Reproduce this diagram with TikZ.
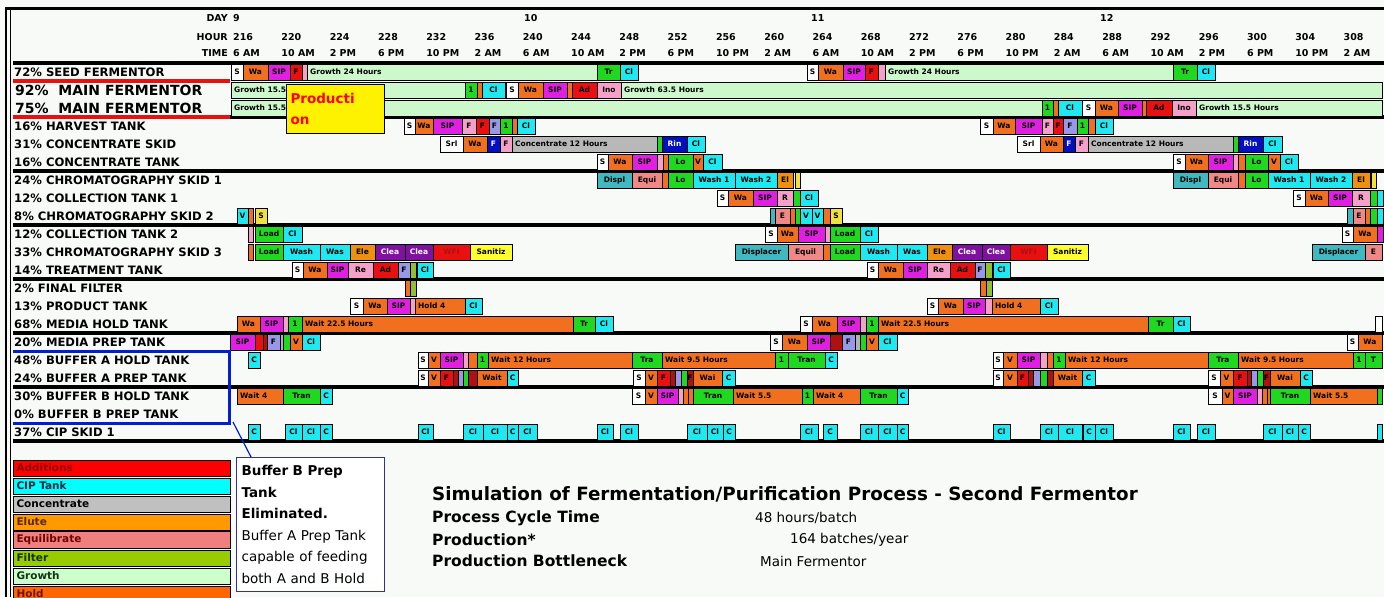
\documentclass[tikz,border=0pt]{standalone}
\usepackage{fontspec}
\setmainfont{DejaVu Sans}
\usetikzlibrary{positioning}

\definecolor{bgc}{RGB}{248,250,248}
\definecolor{washc}{RGB}{240,112,32}
\definecolor{sipc}{RGB}{224,32,224}
\definecolor{addc}{RGB}{232,16,16}
\definecolor{pinkc}{RGB}{244,160,200}
\definecolor{growc}{RGB}{204,248,204}
\definecolor{tranc}{RGB}{32,216,32}
\definecolor{cipc}{RGB}{32,232,240}
\definecolor{lavc}{RGB}{152,152,232}
\definecolor{fbluec}{RGB}{0,16,192}
\definecolor{concc}{RGB}{184,184,184}
\definecolor{dispc}{RGB}{64,184,192}
\definecolor{equic}{RGB}{240,136,136}
\definecolor{elutec}{RGB}{240,144,16}
\definecolor{yelc}{RGB}{240,224,64}
\definecolor{purc}{RGB}{128,16,160}
\definecolor{sanc}{RGB}{255,255,48}
\definecolor{dredc}{RGB}{176,16,16}
\definecolor{filc}{RGB}{144,192,48}
\definecolor{notec}{RGB}{48,48,168}
\definecolor{bluec}{RGB}{0,32,208}

\tikzset{
  bar/.style={draw=black, line width=0.9pt},
  lbl/.style={fill=none, draw=none, inner sep=0pt, font=\fontsize{7.5}{8}\selectfont\bfseries},
  wh/.style={fill=white}, wa/.style={fill=washc}, sip/.style={fill=sipc},
  ad/.style={fill=addc}, pk/.style={fill=pinkc}, gro/.style={fill=growc},
  tr/.style={fill=tranc}, cl/.style={fill=cipc}, lav/.style={fill=lavc},
  fb/.style={fill=fbluec, text=white}, conc/.style={fill=concc},
  dsp/.style={fill=dispc}, eq/.style={fill=equic}, el/.style={fill=elutec},
  yel/.style={fill=yelc}, pur/.style={fill=purc, text=white},
  wfi/.style={fill=addc, text=dredc}, san/.style={fill=sanc},
  dr/.style={fill=dredc}, fil/.style={fill=filc}, gry/.style={fill=gray!60},
  hdr/.style={inner sep=0pt, font=\fontsize{9.5}{11}\selectfont\bfseries},
  rowlbl/.style={inner sep=0pt, anchor=west, font=\fontsize{11.6}{13}\selectfont\bfseries},
  mainlbl/.style={inner sep=0pt, anchor=west, font=\fontsize{14}{16}\selectfont\bfseries},
  leg/.style={draw=black, line width=1pt, anchor=west, minimum height=16pt, text width=211pt,
    inner sep=3pt, align=left, font=\fontsize{10.5}{12}\selectfont\bfseries},
  stat/.style={inner sep=0pt, anchor=west, font=\fontsize{15.5}{17}\selectfont\bfseries},
  val/.style={inner sep=0pt, anchor=west, font=\fontsize{13.5}{16}\selectfont},
}

\newcounter{tk}
\newcommand\task[5]{%
  \pgfmathsetmacro\ry{54+18*#1}%
  \draw[bar,#4] (#2,\ry-8) rectangle (#3,\ry+8);
  \stepcounter{tk}%
  \node[#4,lbl] (tk\arabic{tk}) at ({(#2+#3)/2},\ry) {#5};}
\newcommand\taskl[5]{%
  \pgfmathsetmacro\ry{54+18*#1}%
  \draw[bar,#4] (#2,\ry-8) rectangle (#3,\ry+8);
  \stepcounter{tk}%
  \node[#4,lbl,anchor=west] (tk\arabic{tk}) at (#2+3,\ry) {#5};}

\begin{document}
\begin{tikzpicture}[x=1pt, y=-1pt]
\useasboundingbox (0,0) rectangle (1384,597);
\fill[bgc] (0,0) rectangle (1384,597);

% frame
\draw[line width=3pt] (5,8.5) -- (1384,8.5);
\draw[line width=1.5pt] (6,8) -- (6,597);
\draw[line width=1pt] (10,8) -- (10,597);

% header
\node[hdr, anchor=east] (day) at (228,18) {DAY};
\node[hdr, anchor=east] (hour) at (228,37) {HOUR};
\node[hdr, anchor=east] (time) at (228,53) {TIME};
\foreach \d/\x [count=\i] in {9/233,10/524,11/811,12/1100}
  \node[hdr, anchor=west] (d\i) at (\x,18) {\d};
\foreach \h/\tm [count=\i] in {216/6 AM,220/10 AM,224/2 PM,228/6 PM,232/10 PM,236/2 AM,
  240/6 AM,244/10 AM,248/2 PM,252/6 PM,256/10 PM,260/2 AM,264/6 AM,268/10 AM,272/2 PM,
  276/6 PM,280/10 PM,284/2 AM,288/6 AM,292/10 AM,296/2 PM,300/6 PM,304/10 PM,308/2 AM}{
  \node[hdr, anchor=west] (h\i) at ({233+(\h-216)*12.07},37) {\h};
  \node[hdr, anchor=west] (t\i) at ({233+(\h-216)*12.07},53) {\tm};
}

% group lines
\foreach \g in {0,2,3,4,5,6,7}
  \fill (13,{61+54*\g}) rectangle (1384,{65+54*\g});
\fill (230,115) rectangle (1384,119);

% seed fermentor
\task{1}{231}{243}{wh}{S}
\task{1}{243}{268}{wa}{Wa}
\task{1}{268}{290}{sip}{SIP}
\task{1}{290}{302}{ad}{F}
\task{1}{302}{307}{pk}{}
\taskl{1}{307}{597}{gro}{Growth 24 Hours}
\task{1}{597}{620}{tr}{Tr}
\task{1}{620}{638}{cl}{Cl}
\task{1}{807}{818}{wh}{S}
\task{1}{818}{843}{wa}{Wa}
\task{1}{843}{865}{sip}{SIP}
\task{1}{865}{878}{ad}{F}
\task{1}{878}{885}{pk}{}
\taskl{1}{885}{1173}{gro}{Growth 24 Hours}
\task{1}{1173}{1197}{tr}{Tr}
\task{1}{1197}{1215}{cl}{Cl}

% main fermentors
\taskl{2}{231}{465}{gro}{Growth 15.5 Hours}
\task{2}{465}{477}{tr}{1}
\task{2}{477}{482}{wa}{}
\task{2}{482}{505}{cl}{Cl}
\task{2}{506}{518}{wh}{S}
\task{2}{518}{543}{wa}{Wa}
\task{2}{543}{567}{sip}{SIP}
\task{2}{567}{572}{wa}{}
\task{2}{572}{597}{ad}{Ad}
\task{2}{597}{621}{pk}{Ino}
\taskl{2}{621}{1382}{gro}{Growth 63.5 Hours}
\taskl{3}{231}{1042}{gro}{Growth 15.5 Hours}
\task{3}{1042}{1053}{tr}{1}
\task{3}{1053}{1058}{wa}{}
\task{3}{1058}{1082}{cl}{Cl}
\task{3}{1082}{1095}{wh}{S}
\task{3}{1095}{1118}{wa}{Wa}
\task{3}{1118}{1142}{sip}{SIP}
\task{3}{1142}{1146}{wa}{}
\task{3}{1146}{1172}{ad}{Ad}
\task{3}{1172}{1196}{pk}{Ino}
\taskl{3}{1196}{1382}{gro}{Growth 15.5 Hours}

% harvest tank
\task{4}{404}{415}{wh}{S}
\task{4}{415}{433}{wa}{Wa}
\task{4}{433}{462}{sip}{SIP}
\task{4}{462}{476}{pk}{F}
\task{4}{476}{489}{ad}{F}
\task{4}{489}{500}{lav}{F}
\task{4}{500}{512}{tr}{1}
\task{4}{512}{517}{wa}{}
\task{4}{517}{535}{cl}{Cl}
\task{4}{980}{993}{wh}{S}
\task{4}{993}{1015}{wa}{Wa}
\task{4}{1015}{1042}{sip}{SIP}
\task{4}{1042}{1053}{pk}{F}
\task{4}{1053}{1063}{ad}{F}
\task{4}{1063}{1077}{lav}{F}
\task{4}{1077}{1088}{tr}{1}
\task{4}{1088}{1095}{wa}{}
\task{4}{1095}{1113}{cl}{Cl}

% concentrate skid and tank
\task{5}{440}{463}{wh}{Srl}
\task{5}{463}{487}{wa}{Wa}
\task{5}{487}{500}{fb}{F}
\task{5}{500}{512}{pk}{F}
\taskl{5}{512}{657}{conc}{Concentrate 12 Hours}
\task{5}{657}{662}{tr}{}
\task{5}{662}{687}{fb}{Rin}
\task{5}{687}{705}{cl}{Cl}
\task{5}{1017}{1040}{wh}{Srl}
\task{5}{1040}{1063}{wa}{Wa}
\task{5}{1063}{1075}{fb}{F}
\task{5}{1075}{1088}{pk}{F}
\taskl{5}{1088}{1233}{conc}{Concentrate 12 Hours}
\task{5}{1233}{1238}{tr}{}
\task{5}{1238}{1263}{fb}{Rin}
\task{5}{1263}{1282}{cl}{Cl}
\task{6}{597}{608}{wh}{S}
\task{6}{608}{632}{wa}{Wa}
\task{6}{632}{657}{sip}{SIP}
\task{6}{657}{663}{pk}{}
\task{6}{663}{668}{wa}{}
\task{6}{668}{693}{tr}{Lo}
\task{6}{693}{703}{wa}{V}
\task{6}{703}{722}{cl}{Cl}
\task{6}{1173}{1185}{wh}{S}
\task{6}{1185}{1208}{wa}{Wa}
\task{6}{1208}{1233}{sip}{SIP}
\task{6}{1233}{1238}{pk}{}
\task{6}{1238}{1245}{wa}{}
\task{6}{1245}{1268}{tr}{Lo}
\task{6}{1268}{1280}{wa}{V}
\task{6}{1280}{1298}{cl}{Cl}

% chromatography 1, collection 1, chromatography 2
\task{7}{597}{632}{dsp}{Displ}
\task{7}{632}{662}{eq}{Equi}
\task{7}{662}{668}{wa}{}
\task{7}{668}{693}{tr}{Lo}
\task{7}{693}{735}{cl}{Wash 1}
\task{7}{735}{777}{cl}{Wash 2}
\task{7}{777}{793}{el}{El}
\task{7}{795}{800}{yel}{}
\task{7}{1173}{1208}{dsp}{Displ}
\task{7}{1208}{1238}{eq}{Equi}
\task{7}{1238}{1245}{wa}{}
\task{7}{1245}{1268}{tr}{Lo}
\task{7}{1268}{1310}{cl}{Wash 1}
\task{7}{1310}{1352}{cl}{Wash 2}
\task{7}{1352}{1370}{el}{El}
\task{7}{1371}{1376}{yel}{}
\task{8}{717}{728}{wh}{S}
\task{8}{728}{753}{wa}{Wa}
\task{8}{753}{777}{sip}{SIP}
\task{8}{777}{793}{pk}{R}
\task{8}{793}{800}{tr}{}
\task{8}{800}{818}{cl}{Cl}
\task{8}{1293}{1305}{wh}{S}
\task{8}{1305}{1328}{wa}{Wa}
\task{8}{1328}{1352}{sip}{SIP}
\task{8}{1352}{1370}{pk}{R}
\task{8}{1370}{1377}{tr}{}
\task{8}{1377}{1383}{cl}{}
\task{9}{237}{248}{cl}{V}
\task{9}{248}{253}{wa}{}
\task{9}{255}{267}{yel}{S}
\task{9}{770}{775}{dsp}{}
\task{9}{775}{790}{eq}{E}
\task{9}{790}{795}{wa}{}
\task{9}{795}{800}{tr}{}
\task{9}{800}{812}{cl}{V}
\task{9}{812}{823}{cl}{V}
\task{9}{823}{830}{wa}{}
\task{9}{830}{842}{yel}{S}
\task{9}{1347}{1353}{dsp}{}
\task{9}{1353}{1365}{eq}{E}
\task{9}{1365}{1370}{wa}{}
\task{9}{1370}{1377}{tr}{}
\task{9}{1377}{1383}{cl}{}

% collection 2, chromatography 3, treatment
\task{10}{248}{253}{pk}{}
\task{10}{255}{283}{tr}{Load}
\task{10}{283}{302}{cl}{Cl}
\task{10}{765}{777}{wh}{S}
\task{10}{777}{798}{wa}{Wa}
\task{10}{798}{825}{sip}{SIP}
\task{10}{825}{830}{pk}{}
\task{10}{830}{860}{tr}{Load}
\task{10}{860}{878}{cl}{Cl}
\task{10}{1342}{1353}{wh}{S}
\task{10}{1353}{1377}{wa}{Wa}
\task{10}{1377}{1383}{sip}{}
\task{11}{248}{253}{wa}{}
\task{11}{255}{283}{tr}{Load}
\task{11}{283}{320}{cl}{Wash}
\task{11}{320}{350}{cl}{Was}
\task{11}{350}{375}{el}{Ele}
\task{11}{375}{405}{pur}{Clea}
\task{11}{405}{433}{pur}{Clea}
\task{11}{433}{470}{wfi}{WFI}
\task{11}{470}{512}{san}{Sanitiz}
\task{11}{735}{788}{dsp}{Displacer}
\task{11}{788}{823}{eq}{Equil}
\task{11}{823}{830}{wa}{}
\task{11}{830}{860}{tr}{Load}
\task{11}{860}{897}{cl}{Wash}
\task{11}{897}{927}{cl}{Was}
\task{11}{927}{952}{el}{Ele}
\task{11}{952}{982}{pur}{Clea}
\task{11}{982}{1010}{pur}{Clea}
\task{11}{1010}{1047}{wfi}{WFI}
\task{11}{1047}{1088}{san}{Sanitiz}
\task{11}{1312}{1365}{dsp}{Displacer}
\task{11}{1365}{1382}{eq}{E}
\task{12}{292}{303}{wh}{S}
\task{12}{303}{327}{wa}{Wa}
\task{12}{327}{348}{sip}{SIP}
\task{12}{348}{373}{pk}{Re}
\task{12}{373}{398}{ad}{Ad}
\task{12}{398}{410}{lav}{F}
\task{12}{410}{416}{fil}{}
\task{12}{417}{433}{cl}{Cl}
\task{12}{867}{878}{wh}{S}
\task{12}{878}{903}{wa}{Wa}
\task{12}{903}{927}{sip}{SIP}
\task{12}{927}{950}{pk}{Re}
\task{12}{950}{975}{ad}{Ad}
\task{12}{975}{985}{lav}{F}
\task{12}{985}{992}{fil}{}
\task{12}{993}{1010}{cl}{Cl}

% final filter, product tank, media hold
\task{13}{405}{410}{wa}{}
\task{13}{410}{416}{fil}{}
\task{13}{980}{986}{wa}{}
\task{13}{986}{992}{fil}{}
\task{14}{350}{363}{wh}{S}
\task{14}{363}{387}{wa}{Wa}
\task{14}{387}{410}{sip}{SIP}
\task{14}{410}{415}{pk}{}
\taskl{14}{415}{465}{wa}{Hold 4}
\task{14}{465}{482}{cl}{Cl}
\task{14}{927}{938}{wh}{S}
\task{14}{938}{963}{wa}{Wa}
\task{14}{963}{985}{sip}{SIP}
\task{14}{985}{992}{pk}{}
\taskl{14}{992}{1040}{wa}{Hold 4}
\task{14}{1040}{1058}{cl}{Cl}
\task{15}{237}{260}{wa}{Wa}
\task{15}{260}{283}{sip}{SIP}
\task{15}{283}{288}{pk}{}
\task{15}{288}{302}{tr}{1}
\taskl{15}{302}{573}{wa}{Wait 22.5 Hours}
\task{15}{573}{595}{tr}{Tr}
\task{15}{595}{613}{cl}{Cl}
\task{15}{800}{812}{wh}{S}
\task{15}{812}{837}{wa}{Wa}
\task{15}{837}{860}{sip}{SIP}
\task{15}{860}{866}{pk}{}
\task{15}{866}{878}{tr}{1}
\taskl{15}{878}{1148}{wa}{Wait 22.5 Hours}
\task{15}{1148}{1173}{tr}{Tr}
\task{15}{1173}{1190}{cl}{Cl}
\task{15}{1375}{1382}{wh}{}

% media prep, buffer A hold and prep
\task{16}{230}{255}{sip}{SIP}
\task{16}{255}{263}{ad}{}
\task{16}{263}{267}{dr}{}
\task{16}{267}{280}{lav}{F}
\task{16}{280}{283}{gry}{}
\task{16}{283}{290}{tr}{}
\task{16}{290}{302}{wa}{V}
\task{16}{302}{320}{cl}{Cl}
\task{16}{770}{782}{wh}{S}
\task{16}{782}{807}{wa}{Wa}
\task{16}{807}{830}{sip}{SIP}
\task{16}{830}{842}{dr}{}
\task{16}{842}{855}{lav}{F}
\task{16}{855}{860}{gry}{}
\task{16}{860}{866}{tr}{}
\task{16}{866}{878}{wa}{V}
\task{16}{878}{897}{cl}{Cl}
\task{16}{1347}{1358}{wh}{S}
\task{16}{1358}{1382}{wa}{Wa}
\task{17}{248}{260}{cl}{C}
\task{17}{418}{428}{wh}{S}
\task{17}{428}{440}{wa}{V}
\task{17}{440}{463}{sip}{SIP}
\task{17}{463}{468}{pk}{}
\task{17}{468}{477}{wa}{}
\task{17}{477}{488}{tr}{1}
\taskl{17}{488}{632}{wa}{Wait 12 Hours}
\task{17}{632}{662}{tr}{Tra}
\taskl{17}{662}{775}{wa}{Wait 9.5 Hours}
\task{17}{775}{788}{tr}{1}
\task{17}{788}{825}{tr}{Tran}
\task{17}{825}{837}{cl}{C}
\task{17}{993}{1003}{wh}{S}
\task{17}{1003}{1017}{wa}{V}
\task{17}{1017}{1040}{sip}{SIP}
\task{17}{1040}{1047}{pk}{}
\task{17}{1047}{1053}{wa}{}
\task{17}{1053}{1065}{tr}{1}
\taskl{17}{1065}{1208}{wa}{Wait 12 Hours}
\task{17}{1208}{1238}{tr}{Tra}
\taskl{17}{1238}{1353}{wa}{Wait 9.5 Hours}
\task{17}{1353}{1365}{tr}{1}
\task{17}{1365}{1382}{tr}{T}
\task{18}{418}{428}{wh}{S}
\task{18}{428}{440}{wa}{V}
\task{18}{440}{453}{ad}{F}
\task{18}{453}{458}{dr}{}
\task{18}{458}{463}{lav}{}
\task{18}{463}{468}{tr}{}
\task{18}{468}{477}{dr}{}
\task{18}{477}{507}{wa}{Wait}
\task{18}{507}{518}{cl}{C}
\task{18}{633}{645}{wh}{S}
\task{18}{645}{657}{wa}{V}
\task{18}{657}{670}{ad}{F}
\task{18}{670}{675}{dr}{}
\task{18}{675}{681}{lav}{}
\task{18}{681}{687}{tr}{}
\task{18}{687}{693}{dr}{F}
\task{18}{693}{722}{wa}{Wai}
\task{18}{722}{735}{cl}{C}
\task{18}{993}{1003}{wh}{S}
\task{18}{1003}{1017}{wa}{V}
\task{18}{1017}{1028}{ad}{F}
\task{18}{1028}{1033}{dr}{}
\task{18}{1033}{1040}{lav}{}
\task{18}{1040}{1047}{tr}{}
\task{18}{1047}{1053}{dr}{}
\task{18}{1053}{1082}{wa}{Wait}
\task{18}{1082}{1095}{cl}{C}
\task{18}{1208}{1220}{wh}{S}
\task{18}{1220}{1233}{wa}{V}
\task{18}{1233}{1247}{ad}{F}
\task{18}{1247}{1251}{dr}{}
\task{18}{1251}{1257}{lav}{}
\task{18}{1257}{1263}{tr}{}
\task{18}{1263}{1270}{dr}{F}
\task{18}{1270}{1300}{wa}{Wai}
\task{18}{1300}{1312}{cl}{C}

% buffer B hold
\taskl{19}{237}{283}{wa}{Wait 4}
\task{19}{283}{320}{tr}{Tran}
\task{19}{320}{332}{cl}{C}
\task{19}{632}{645}{wh}{S}
\task{19}{645}{657}{wa}{V}
\task{19}{657}{678}{sip}{SIP}
\task{19}{678}{683}{pk}{}
\task{19}{683}{688}{wa}{}
\task{19}{688}{693}{wa}{}
\task{19}{693}{733}{tr}{Tran}
\taskl{19}{733}{802}{wa}{Wait 5.5}
\task{19}{802}{813}{tr}{1}
\taskl{19}{813}{860}{wa}{Wait 4}
\task{19}{860}{897}{tr}{Tran}
\task{19}{897}{908}{cl}{C}
\task{19}{1208}{1222}{wh}{S}
\task{19}{1222}{1233}{wa}{V}
\task{19}{1233}{1257}{sip}{SIP}
\task{19}{1257}{1262}{pk}{}
\task{19}{1262}{1267}{wa}{}
\task{19}{1267}{1270}{wa}{}
\task{19}{1270}{1310}{tr}{Tran}
\taskl{19}{1310}{1377}{wa}{Wait 5.5}
\task{19}{1377}{1382}{tr}{}

% CIP skid
\foreach \a/\b/\c in {248/260/C,285/302/Cl,302/320/Cl,320/332/C,418/433/Cl,463/483/Cl,
  483/507/Cl,507/518/C,518/537/Cl,597/613/Cl,620/638/Cl,687/707/Cl,707/723/Cl,723/735/C,
  800/818/Cl,823/837/C,860/878/Cl,878/897/Cl,897/908/C,993/1010/Cl,1040/1058/Cl,
  1058/1082/Cl,1083/1095/C,1095/1113/Cl,1173/1190/Cl,1197/1215/Cl,1263/1282/Cl,
  1282/1298/Cl,1298/1310/C,1377/1382/}
  \task{21}{\a}{\b}{cl}{\c};

% row labels
\foreach \k/\lab in {1/72\% SEED FERMENTOR,4/16\% HARVEST TANK,5/31\% CONCENTRATE SKID,
  6/16\% CONCENTRATE TANK,7/24\% CHROMATOGRAPHY SKID 1,8/12\% COLLECTION TANK 1,
  9/8\% CHROMATOGRAPHY SKID 2,10/12\% COLLECTION TANK 2,11/33\% CHROMATOGRAPHY SKID 3,
  12/14\% TREATMENT TANK,13/2\% FINAL FILTER,14/13\% PRODUCT TANK,15/68\% MEDIA HOLD TANK,
  16/20\% MEDIA PREP TANK,17/48\% BUFFER A HOLD TANK,18/24\% BUFFER A PREP TANK,
  19/30\% BUFFER B HOLD TANK,20/0\% BUFFER B PREP TANK,21/37\% CIP SKID 1}
  \node[rowlbl] (row\k) at (14,{54+18*\k}) {\lab};
\node[mainlbl] (row2) at (15,90) {92\%\ \ MAIN FERMENTOR};
\node[mainlbl] (row3) at (15,108) {75\%\ \ MAIN FERMENTOR};

% red and blue outlines
\fill[addc] (13,79) rectangle (230,83);
\fill[addc] (13,115) rectangle (230,119);
\draw[bluec, line width=3.5pt] (13,351.5) -- (229.5,351.5) -- (229.5,423.5) -- (13,423.5);

\node[draw=black, line width=1pt, fill=yellow, anchor=north west, text width=90pt,
  align=left, inner sep=4pt, minimum height=49pt, text=red,
  font=\fontsize{13.5}{21}\selectfont\bfseries] (prod) at (286,84) {Producti\\on};

% legend
\foreach \c/\tc/\lab [count=\i] in {{rgb,255:red,255;green,0;blue,0}/{rgb,255:red,140;green,0;blue,0}/Additions,
  {rgb,255:red,0;green,255;blue,255}/{rgb,255:red,0;green,40;blue,60}/CIP Tank,
  {rgb,255:red,192;green,192;blue,192}/black/Concentrate,
  {rgb,255:red,255;green,153;blue,0}/{rgb,255:red,90;green,40;blue,0}/Elute,
  {rgb,255:red,240;green,128;blue,128}/{rgb,255:red,110;green,0;blue,0}/Equilibrate,
  {rgb,255:red,153;green,204;blue,0}/{rgb,255:red,20;green,50;blue,0}/Filter,
  {rgb,255:red,204;green,255;blue,204}/{rgb,255:red,20;green,50;blue,20}/Growth,
  {rgb,255:red,255;green,102;blue,0}/{rgb,255:red,110;green,20;blue,0}/Hold}
  \node[leg, fill=\c, text=\tc] (leg\i) at (13,{468+18*(\i-1)}) {\lab};

% note
\node[draw=notec, line width=1.2pt, fill=white, anchor=north west, text width=138pt,
  align=left, inner sep=5pt, minimum height=134pt,
  font=\fontsize{13.5}{21.5}\selectfont] (note) at (236,457)
  {\textbf{Buffer B Prep}\\ \textbf{Tank}\\ \textbf{Eliminated.}\\ Buffer A Prep Tank\\
   capable of feeding\\ both A and B Hold};
\coordinate (bcorner) at (233,422);
\draw[bluec, line width=1.2pt] (bcorner) -- ([xshift=15pt]note.north west);

% summary
\node[inner sep=0pt, anchor=west, font=\fontsize{18.3}{21}\selectfont\bfseries] (title) at (432,494)
  {Simulation of Fermentation/Purification Process - Second Fermentor};
\node[stat] (pct) at (432,518) {Process Cycle Time};
\node[stat] (prd) at (432,540) {Production*};
\node[stat] (bot) at (432,561) {Production Bottleneck};
\node[val] (pctv) at (755,518) {48 hours/batch};
\node[val] (prdv) at (790,540) {164 batches/year};
\node[val] (botv) at (760,561) {Main Fermentor};
\end{tikzpicture}
\end{document}
